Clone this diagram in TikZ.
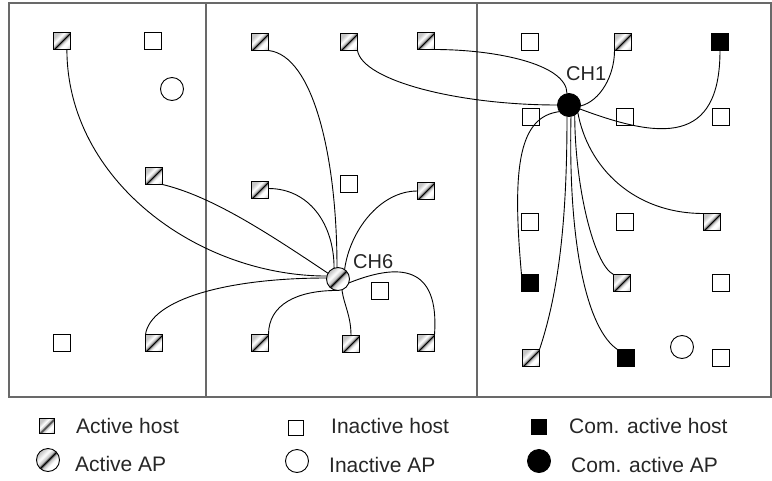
\documentclass[tikz,border=0pt]{standalone}
\usepackage{fontspec}
\setmainfont{Liberation Sans}
\definecolor{framegray}{RGB}{105,105,105}
\pgfdeclarehorizontalshading{hatchsh}{100bp}{color(0bp)=(gray!45); color(27bp)=(gray!45); color(38bp)=(white); color(46bp)=(gray!50); color(50bp)=(black); color(54bp)=(gray!50); color(62bp)=(white); color(70bp)=(white); color(80bp)=(gray!35); color(100bp)=(gray!35)}
\begin{document}
\begin{tikzpicture}[x=1pt,y=-1pt,
  base/.style={draw=black, line width=0.9pt, inner sep=0pt, outer sep=0pt},
  sqI/.style={base, rectangle, minimum size=17pt, fill=white},
  sqA/.style={sqI, shading=hatchsh, shading angle=-45},
  sqC/.style={sqI, fill=black},
  ciI/.style={base, circle, minimum size=23pt, fill=white},
  ciA/.style={ciI, shading=hatchsh, shading angle=-45},
  ciC/.style={ciI, fill=black},
  link/.style={line width=0.9pt, draw=black},
  frame/.style={draw=framegray, line width=1.3pt},
  lbl/.style={font=\fontsize{20}{24}\selectfont, anchor=base west, inner sep=0pt, text=black!85},
  legtxt/.style={font=\fontsize{21}{25}\selectfont, anchor=base west, inner sep=0pt, text=black!85}]
\useasboundingbox (0,0) rectangle (772,480);
% frame
\draw[frame] (9,3) rectangle (771,397);
\coordinate (d1t) at (206,3); \coordinate (d1b) at (206,397);
\coordinate (d2t) at (477,3); \coordinate (d2b) at (477,397);
\draw[frame] (d1t) -- (d1b);
\draw[frame] (d2t) -- (d2b);
% column 1
\node[sqA] (h1) at (62,41) {};
\node[sqI] (i1) at (153,41) {};
\node[ciI] (ap1) at (172,89) {};
\node[sqA] (h2) at (154,176) {};
\node[sqI] (i2) at (62,343) {};
\node[sqA] (h3) at (154,343) {};
% column 2
\node[sqA] (h4) at (260,42) {};
\node[sqA] (h5) at (349,42) {};
\node[sqA] (h6) at (426,41) {};
\node[sqA] (h7) at (260,190) {};
\node[sqI] (i3) at (349,184) {};
\node[sqA] (h8) at (426,191) {};
\node[ciA] (ch6) at (338,279) {};
\node[sqI] (i4) at (380,291) {};
\node[sqA] (h9) at (260,343) {};
\node[sqA] (h10) at (351,344) {};
\node[sqA] (h11) at (426,343) {};
% column 3
\node[sqI] (i5) at (530,42) {};
\node[sqA] (h12) at (623,42) {};
\node[sqC] (c1) at (720,42) {};
\node[ciC] (ch1) at (569,105) {};
\node[sqI] (i6) at (531,117) {};
\node[sqI] (i7) at (625,117) {};
\node[sqI] (i8) at (721,117) {};
\node[sqI] (i9) at (530,222) {};
\node[sqI] (i10) at (625,222) {};
\node[sqA] (h13) at (712,222) {};
\node[sqC] (c2) at (530,283) {};
\node[sqA] (h14) at (622,283) {};
\node[sqI] (i11) at (721,283) {};
\node[sqA] (h15) at (531,358) {};
\node[sqC] (c3) at (626,358) {};
\node[ciI] (ap2) at (682,347) {};
\node[sqI] (i12) at (721,358) {};
% labels
\node[lbl] (l6) at (353,268) {CH6};
\node[lbl] (l1) at (566,80) {CH1};
% links to CH6
\draw[link] (h1.-60) .. controls +(0,130) and +(-130,0) .. (ch6.165);
\draw[link] (h2.south east) .. controls +(50,12) and +(-60,-40) .. (ch6.150);
\draw[link] (h7.10) .. controls +(40,0) and +(0,-45) .. (ch6.110);
\draw[link] (h4.south east) .. controls +(45,5) and +(0,-110) .. (ch6.95);
\draw[link] (h8.west) .. controls +(-38,0) and +(5,-38) .. (ch6.55);
\draw[link] (h3.north west) .. controls +(5,-35) and +(-100,0) .. (ch6.175);
\draw[link] (h9.north east) .. controls +(0,-30) and +(-40,0) .. (ch6.-95);
\draw[link] (h10.north) .. controls +(0,-20) and +(2,15) .. (ch6.-70);
\draw[link] (h11.north east) .. controls +(5,-70) and +(50,-20) .. (ch6.-20);
% links to CH1
\draw[link] (h5.south east) .. controls +(5,30) and +(-100,0) .. (ch1.180);
\draw[link] (h6.south east) .. controls +(60,0) and +(0,-30) .. (ch1.100);
\draw[link] (h12.south west) .. controls +(0,25) and +(20,-5) .. (ch1.-5);
\draw[link] (c1.south) .. controls +(0,95) and +(80,30) .. (ch1.-20);
\draw[link] (c2.north west) .. controls +(-10,-110) and +(-40,5) .. (ch1.-145);
\draw[link] (h15.north east) .. controls +(20,-60) and +(0,100) .. (ch1.-100);
\draw[link] (c3.north west) .. controls +(-30,-20) and +(-3,130) .. (ch1.-80);
\draw[link] (h14.north west) .. controls +(-20,-10) and +(0,70) .. (ch1.-60);
\draw[link] (h13.north west) .. controls +(-70,0) and +(10,55) .. (ch1.-40);
% legend
\node[sqA, minimum size=15pt] (lah) at (47,426) {};
\node[legtxt] (lahT) at (76,433) {Active host};
\node[sqI, minimum size=15pt] (lih) at (296,428) {};
\node[legtxt] (lihT) at (331,433) {Inactive host};
\node[sqC, minimum size=15pt] (lch) at (539,427) {};
\node[legtxt] (lchT) at (569,433) {Com. active host};
\node[ciA] (laa) at (48,460) {};
\node[legtxt] (laaT) at (75,471) {Active AP};
\node[ciI] (lia) at (297,461) {};
\node[legtxt] (liaT) at (329,472) {Inactive AP};
\node[ciC] (lca) at (539,461) {};
\node[legtxt] (lcaT) at (571,472) {Com. active AP};
\end{tikzpicture}
\end{document}
